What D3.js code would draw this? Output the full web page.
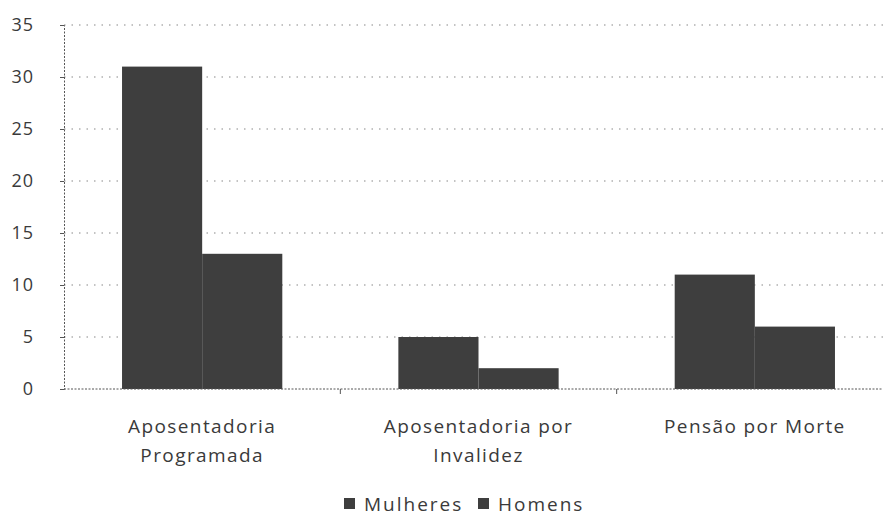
<!DOCTYPE html>
<html>
<head>
<meta charset="utf-8">
<script src="https://cdn.jsdelivr.net/npm/d3@7.9.0/dist/d3.min.js"></script>
<style>
  body { margin: 0; background: #fff; }
  svg { display: block; font-family: "Open Sans", "Noto Sans", sans-serif; }
</style>
</head>
<body>
<div id="chart"></div>
<script>
const categories = [['Aposentadoria', 'Programada'], ['Aposentadoria por', 'Invalidez'], ['Pensão por Morte']];
const series = ['Mulheres', 'Homens'];
const mulheres = [31, 5, 11];
const homens = [13, 2, 6];
const yTicks = [0, 5, 10, 15, 20, 25, 30, 35];

const width = 883;
const height = 515;

const rows = categories.map((c, i) => ({ key: c.join(' '), lines: c, values: [mulheres[i], homens[i]] }));

const svg = d3.select('#chart')
  .append('svg')
  .attr('width', width)
  .attr('height', height);

const x0 = d3.scaleBand()
  .domain(rows.map(d => d.key))
  .range([64, 893])
  .paddingInner(0.42)
  .paddingOuter(0.21);

const x1 = d3.scaleBand()
  .domain(series)
  .range([0, x0.bandwidth()]);

const y = d3.scaleLinear()
  .domain([0, 35])
  .range([389, 25]);

// gridlines
svg.append('g')
  .selectAll('line')
  .data(yTicks.filter(d => d > 0))
  .join('line')
  .attr('x1', 64)
  .attr('x2', width)
  .attr('y1', d => y(d))
  .attr('y2', d => y(d))
  .attr('stroke', '#888')
  .attr('stroke-width', 1.2)
  .attr('stroke-dasharray', '1.5,6');

// bars
const groups = svg.append('g')
  .selectAll('g')
  .data(rows)
  .join('g')
  .attr('transform', d => `translate(${x0(d.key)},0)`);

groups.selectAll('rect')
  .data(d => d.values.map((v, i) => ({ s: series[i], v })))
  .join('rect')
  .attr('x', d => x1(d.s))
  .attr('width', x1.bandwidth())
  .attr('y', d => y(d.v))
  .attr('height', d => y(0) - y(d.v))
  .attr('fill', '#3e3e3e');

// y axis
const yAxis = svg.append('g')
  .attr('transform', 'translate(64,0)')
  .call(d3.axisLeft(y).tickValues(yTicks).tickSize(4).tickPadding(26));
yAxis.select('.domain').attr('stroke', '#555').attr('stroke-dasharray', '2,1.5');
yAxis.selectAll('.tick line').attr('stroke', '#555');
yAxis.selectAll('text')
  .attr('font-size', 18)
  .attr('letter-spacing', 1)
  .attr('fill', '#3a3a3a')
  .attr('font-family', '"Open Sans", sans-serif');

// x axis
const xAxis = svg.append('g')
  .attr('transform', `translate(0,${y(0)})`);
xAxis.append('line')
  .attr('x1', 64).attr('x2', width)
  .attr('stroke', '#555')
  .attr('stroke-dasharray', '2,1.5');
const step = x0.step();
xAxis.selectAll('.sep')
  .data(rows)
  .join('line')
  .attr('class', 'sep')
  .attr('x1', d => x0(d.key) - x0.paddingOuter() * step + step)
  .attr('x2', d => x0(d.key) - x0.paddingOuter() * step + step)
  .attr('y1', 0)
  .attr('y2', 5)
  .attr('stroke', '#555');

// category labels
svg.append('g')
  .selectAll('text')
  .data(rows)
  .join('text')
  .attr('x', d => x0(d.key) + x0.bandwidth() / 2)
  .attr('y', 433)
  .attr('text-anchor', 'middle')
  .attr('font-size', 19)
  .attr('letter-spacing', 1.4)
  .attr('fill', '#3a3a3a')
  .selectAll('tspan')
  .data(d => d.lines.map(l => ({ l, x: x0(d.key) + x0.bandwidth() / 2 })))
  .join('tspan')
  .attr('x', d => d.x)
  .attr('dy', (d, i) => i === 0 ? 0 : 29)
  .text(d => d.l);

// legend
const legendX = [344, 478];
const legend = svg.append('g')
  .selectAll('g')
  .data(series)
  .join('g')
  .attr('transform', (d, i) => `translate(${legendX[i]},504)`);
legend.append('rect')
  .attr('x', 0).attr('y', -6)
  .attr('width', 11).attr('height', 11)
  .attr('fill', '#3e3e3e');
legend.append('text')
  .attr('x', 20)
  .attr('y', 6.5)
  .attr('font-size', 19)
  .attr('letter-spacing', 2)
  .attr('fill', '#3a3a3a')
  .text(d => d);
</script>
</body>
</html>
